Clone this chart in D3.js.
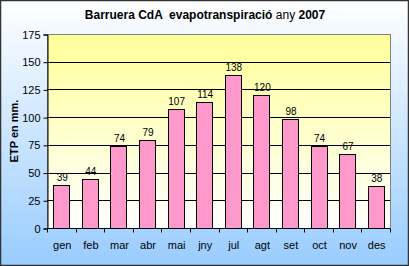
<!DOCTYPE html>
<html>
<head>
<meta charset="utf-8">
<title>Barruera CdA evapotranspiració</title>
<script src="https://cdn.jsdelivr.net/npm/d3@7"></script>
<style>
    body { margin: 0; }
    text { font-family: "Liberation Sans", Arial, sans-serif; }
    .title { white-space: pre; }
</style>
</head>
<body>
<script>
    var months = ["gen", "feb", "mar", "abr", "mai", "jny", "jul", "agt", "set", "oct", "nov", "des"];
    var etp = [39, 44, 74, 79, 107, 114, 138, 120, 98, 74, 67, 38];
    var yTicks = [0, 25, 50, 75, 100, 125, 150, 175];

    var width = 409, height = 266;
    // plot area edges (don't call these "top", window.top is read only)
    var plotLeft = 47, plotRight = 390, plotTop = 34, plotBottom = 228;

    var svg = d3.select("body").append("svg")
        .attr("width", width)
        .attr("height", height);

    var defs = svg.append("defs");
    var bgGrad = defs.append("linearGradient").attr("id", "bg")
        .attr("x1", 0).attr("y1", 0).attr("x2", 0).attr("y2", 1);
    bgGrad.append("stop").attr("offset", "0%").attr("stop-color", "#ffffff");
    bgGrad.append("stop").attr("offset", "100%").attr("stop-color", "#99ccff");

    var plotGrad = defs.append("linearGradient").attr("id", "plotbg")
        .attr("x1", 0).attr("y1", 0).attr("x2", 0).attr("y2", 1);
    plotGrad.append("stop").attr("offset", "0%").attr("stop-color", "#ffff99");
    plotGrad.append("stop").attr("offset", "100%").attr("stop-color", "#ffffff");

    // outer frame
    svg.append("rect")
        .attr("x", 0.5).attr("y", 0.5)
        .attr("width", width - 1).attr("height", height - 1)
        .attr("fill", "url(#bg)")
        .attr("stroke", "#333")
        .attr("stroke-width", 1.5);

    var x = d3.scaleBand().domain(months).range([plotLeft, plotRight]).paddingInner(0.44).paddingOuter(0.22);
    var y = d3.scaleLinear().domain([0, 175]).range([plotBottom, plotTop]);

    // plot area
    svg.append("rect")
        .attr("x", plotLeft + 0.5).attr("y", plotTop + 0.5)
        .attr("width", plotRight - plotLeft).attr("height", plotBottom - plotTop)
        .attr("fill", "url(#plotbg)")
        .attr("stroke", "#808080");

    // gridlines
    svg.append("g").selectAll("line")
        .data(yTicks.slice(1, -1))
        .enter().append("line")
        .attr("x1", plotLeft).attr("x2", plotRight)
        .attr("y1", function (d) { return Math.round(y(d)) + 0.5; })
        .attr("y2", function (d) { return Math.round(y(d)) + 0.5; })
        .attr("stroke", "#000");

    // bars
    svg.append("g").selectAll("rect")
        .data(etp)
        .enter().append("rect")
        .attr("x", function (d, i) { return Math.round(x(months[i])) + 0.5; })
        .attr("y", function (d) { return Math.round(y(d)) + 0.5; })
        .attr("width", Math.round(x.bandwidth()))
        .attr("height", function (d) { return Math.round(y(0)) - Math.round(y(d)); })
        .attr("fill", "#ff99cc")
        .attr("stroke", "#000");

    // value labels
    svg.append("g").selectAll("text")
        .data(etp)
        .enter().append("text")
        .attr("x", function (d, i) { return x(months[i]) + x.bandwidth() / 2 + 1; })
        .attr("y", function (d) { return y(d) - 4; })
        .attr("text-anchor", "middle")
        .attr("font-size", "10px")
        .text(function (d) { return d; });

    // y axis
    var yAxis = svg.append("g")
        .attr("transform", "translate(" + (plotLeft + 0.5) + ",0.5)")
        .call(d3.axisLeft(y).tickValues(yTicks).tickSize(4).tickPadding(3));
    yAxis.select(".domain").attr("stroke", "#000");
    yAxis.selectAll("text").attr("font-size", "11px").attr("fill", "#000")
        .style("font-family", "'Liberation Sans', Arial, sans-serif");

    // x axis with ticks at category boundaries
    var step = x.step();
    var xAxis = svg.append("g")
        .attr("transform", "translate(0," + (plotBottom + 0.5) + ")");
    xAxis.append("line")
        .attr("x1", plotLeft).attr("x2", plotRight)
        .attr("stroke", "#000");
    xAxis.selectAll(".tk")
        .data(d3.range(months.length + 1))
        .enter().append("line")
        .attr("class", "tk")
        .attr("x1", function (i) { return Math.round(plotLeft + i * step) + 0.5; })
        .attr("x2", function (i) { return Math.round(plotLeft + i * step) + 0.5; })
        .attr("y1", 0).attr("y2", 4)
        .attr("stroke", "#000");
    xAxis.selectAll("text")
        .data(months)
        .enter().append("text")
        .attr("x", function (d) { return x(d) + x.bandwidth() / 2 + 1; })
        .attr("y", 20)
        .attr("text-anchor", "middle")
        .attr("font-size", "11px")
        .text(function (d) { return d; });

    // title
    var title = svg.append("text")
        .attr("class", "title")
        .attr("x", 205).attr("y", 19)
        .attr("text-anchor", "middle")
        .attr("font-size", "12px");
    title.append("tspan").attr("font-weight", "bold").text("Barruera CdA  evapotranspiració ");
    title.append("tspan").text("any ");
    title.append("tspan").attr("font-weight", "bold").text("2007");

    // y axis title
    svg.append("text")
        .attr("transform", "translate(18," + ((plotTop + plotBottom) / 2) + ") rotate(-90)")
        .attr("text-anchor", "middle")
        .attr("font-size", "11px")
        .attr("font-weight", "bold")
        .text("ETP en mm.");
</script>
</body>
</html>
